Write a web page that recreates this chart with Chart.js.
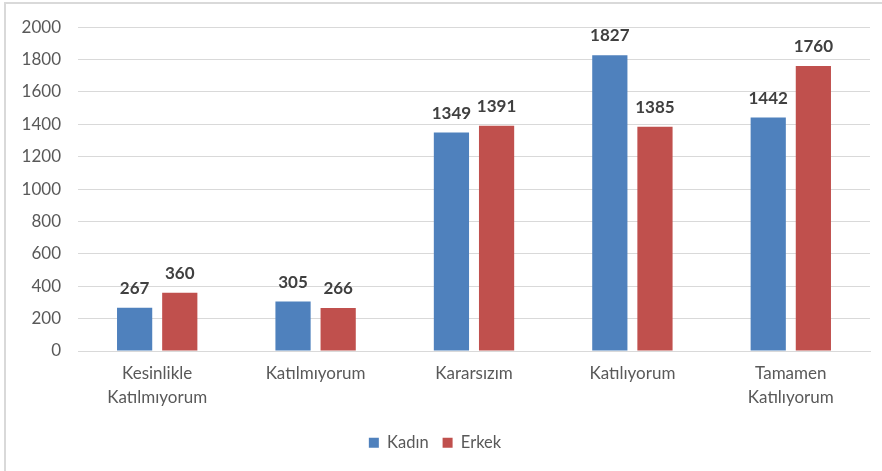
<!DOCTYPE html>
<html>
<head>
<meta charset="utf-8">
<script src="https://cdn.jsdelivr.net/npm/chart.js@4.4.1/dist/chart.umd.min.js"></script>
<style>
  html, body { margin: 0; padding: 0; background: #fff; overflow: hidden; }
  #frame {
    position: absolute; left: 4px; top: 2px; width: 1000px; height: 1000px;
    border: 2px solid #D9D9D9;
  }
  #wrap { position: absolute; left: 0; top: 0; width: 882px; height: 471px; }
</style>
</head>
<body>
<div id="frame"></div>
<div id="wrap"><canvas id="chart"></canvas></div>
<script>
// Kategoriler ve seriler
const categories = [
  ["Kesinlikle", "Katılmıyorum"],
  "Katılmıyorum",
  "Kararsızım",
  "Katılıyorum",
  ["Tamamen", "Katılıyorum"],
];
const kadinValues = [267, 305, 1349, 1827, 1442];
const erkekValues = [360, 266, 1391, 1385, 1760];
const yTicks = [0, 200, 400, 600, 800, 1000, 1200, 1400, 1600, 1800, 2000];

const FONT = "Lato, 'Open Sans', sans-serif";

// Çubukların üzerine değer yazan küçük eklenti
const valueLabels = {
  id: "valueLabels",
  afterDatasetsDraw(chart) {
    const ctx = chart.ctx;
    ctx.save();
    ctx.font = "bold 17px " + FONT;
    ctx.fillStyle = "#404040";
    ctx.textAlign = "center";
    ctx.textBaseline = "alphabetic";
    chart.data.datasets.forEach((ds, i) => {
      const meta = chart.getDatasetMeta(i);
      meta.data.forEach((bar, j) => {
        ctx.fillText(String(ds.data[j]), bar.x, bar.y - 14);
      });
    });
    ctx.restore();
  },
};

new Chart(document.getElementById("chart"), {
  type: "bar",
  data: {
    labels: categories,
    datasets: [
      {
        label: "Kadın",
        data: kadinValues,
        backgroundColor: "#4F81BD",
        barPercentage: 0.78,
        categoryPercentage: 0.57,
      },
      {
        label: "Erkek",
        data: erkekValues,
        backgroundColor: "#C0504D",
        barPercentage: 0.78,
        categoryPercentage: 0.57,
      },
    ],
  },
  options: {
    responsive: true,
    maintainAspectRatio: false,
    animation: false,
    layout: { padding: { left: 0, right: 12, top: 20, bottom: 10 } },
    plugins: {
      tooltip: { enabled: false },
      legend: {
        position: "bottom",
        labels: {
          color: "#595959",
          boxWidth: 10,
          boxHeight: 10,
          padding: 14,
          font: { family: FONT, size: 16.5 },
        },
      },
    },
    scales: {
      x: {
        afterFit: (scale) => {
          scale.height = 69.5;
        },
        grid: { display: false },
        border: { color: "#D9D9D9" },
        ticks: {
          color: "#595959",
          padding: 3,
          maxRotation: 0,
          autoSkip: false,
          font: { family: FONT, size: 17, lineHeight: 1.4 },
        },
      },
      y: {
        min: 0,
        max: 2000,
        afterBuildTicks: (scale) => {
          scale.ticks = yTicks.map((v) => ({ value: v }));
        },
        afterFit: (scale) => {
          scale.width = 78;
        },
        grid: { color: "#D9D9D9", drawTicks: false },
        border: { display: false },
        ticks: {
          color: "#595959",
          padding: 17,
          font: { family: FONT, size: 17 },
          callback: (value) => String(value),
        },
      },
    },
  },
  plugins: [valueLabels],
});
</script>
</body>
</html>
